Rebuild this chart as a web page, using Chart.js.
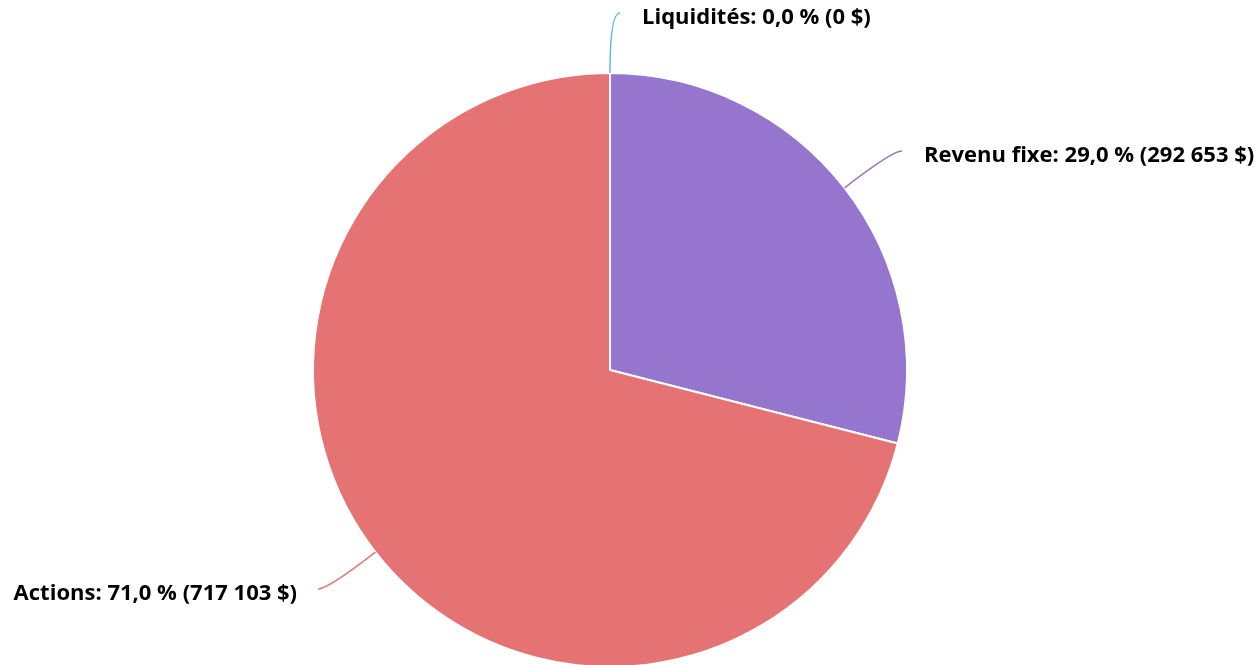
<!DOCTYPE html>
<html>
<head>
<meta charset="utf-8">
<script src="https://cdn.jsdelivr.net/npm/chart.js@4"></script>
<style>
  html, body { margin: 0; padding: 0; background: #fff; overflow: hidden; }
  #wrap { width: 1257px; height: 680px; position: relative; }
</style>
</head>
<body>
<div id="wrap"><canvas id="allocChart"></canvas></div>
<script>
const labels = ["Liquidités", "Revenu fixe", "Actions"];
const amounts = [0, 292653, 717103];
const colors = ["#64b5f6", "#9575cd", "#e57373"];

const total = amounts.reduce((a, b) => a + b, 0);
const fmtMoney = (v) => Math.round(v).toString().replace(/\B(?=(\d{3})+(?!\d))/g, " ") + " $";
const fmtPct = (v) => (v * 100 / total).toFixed(1).replace(".", ",") + " %";

// draws Highcharts-like outside labels with soft connectors
const outsideLabels = {
  id: "outsideLabels",
  afterDatasetsDraw(chart) {
    const { ctx } = chart;
    const meta = chart.getDatasetMeta(0);
    const dist = 60;
    meta.data.forEach((arc, i) => {
      const { x: cx, y: cy, outerRadius: r, startAngle, endAngle } = arc.getProps(["x", "y", "outerRadius", "startAngle", "endAngle"], true);
      const mid = (startAngle + endAngle) / 2;
      const dx = Math.cos(mid), dy = Math.sin(mid);
      const right = dx >= -1e-6;
      const sx = cx + r * dx, sy = cy + r * dy;
      const rx = cx + (r + dist) * dx, ry = cy + (r + dist) * dy;
      const ex = rx + (right ? 10 : -10), ey = ry;

      ctx.save();
      ctx.strokeStyle = colors[i];
      ctx.lineWidth = 1.5;
      ctx.beginPath();
      ctx.moveTo(sx, sy);
      ctx.quadraticCurveTo(rx, ry, ex, ey);
      ctx.stroke();

      ctx.fillStyle = "#000";
      ctx.font = "bold 22px 'Open Sans', 'Noto Sans', sans-serif";
      ctx.textBaseline = "middle";
      ctx.textAlign = right ? "left" : "right";
      const text = labels[i] + ": " + fmtPct(amounts[i]) + " (" + fmtMoney(amounts[i]) + ")";
      ctx.fillText(text, ex + (right ? 22 : -21), ey + 5);
      ctx.restore();
    });
  },
};

new Chart(document.getElementById("allocChart"), {
  type: "pie",
  data: {
    labels,
    datasets: [
      {
        data: amounts,
        backgroundColor: colors,
        borderColor: "#ffffff",
        borderWidth: 2,
        hoverOffset: 0,
      },
    ],
  },
  options: {
    responsive: true,
    maintainAspectRatio: false,
    animation: false,
    layout: { padding: { top: 72, bottom: 12, left: 312, right: 349 } },
    plugins: { legend: { display: false }, tooltip: { enabled: false } },
  },
  plugins: [outsideLabels],
});
</script>
</body>
</html>
